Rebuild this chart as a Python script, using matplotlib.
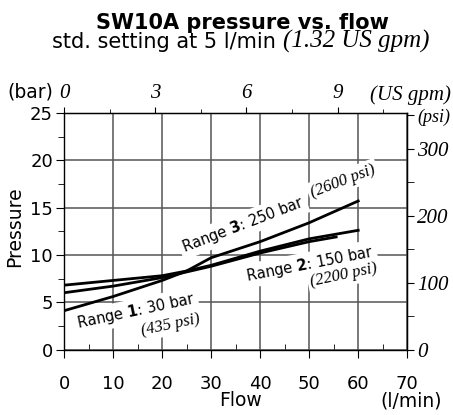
import matplotlib
matplotlib.use("Agg")
import matplotlib.pyplot as plt

plt.rcParams['font.family'] = ['DejaVu Sans']
plt.rcParams['mathtext.fontset'] = 'dejavusans'

# flow in l/min, pressure in bar
flow_r1 = [0, 10, 20, 25, 30, 40, 50, 55.5]
pres_r1 = [6.0, 6.7, 7.6, 8.2, 8.8, 10.2, 11.4, 11.9]
flow_r2 = [0, 10, 20, 25, 30, 40, 50, 60]
pres_r2 = [6.8, 7.3, 7.8, 8.3, 8.9, 10.4, 11.7, 12.6]
flow_r3 = [0, 10, 20, 25, 30, 40, 50, 60]
pres_r3 = [4.1, 5.6, 7.3, 8.3, 9.7, 11.4, 13.4, 15.7]

flow_ticks = list(range(0, 71, 10))
pres_ticks = list(range(0, 26, 5))
gpm_ticks = [0, 3, 6, 9]
psi_ticks = [0, 100, 200, 300, 350]
psi_labels = ['0', '100', '200', '300', '(psi)']

lpm_per_gpm = 6.2     # as drawn on the chart
psi_per_bar = 14.14

serif_it = dict(family='Liberation Serif', style='italic')
box = dict(facecolor='white', edgecolor='none', pad=2)

fig = plt.figure(figsize=(4.53, 4.15), dpi=100)
ax = fig.add_axes([0.1413, 0.1578, 0.7577, 0.5699])

ax.plot(flow_r1, pres_r1, color='black', lw=2.0, zorder=4)
ax.plot(flow_r2, pres_r2, color='black', lw=2.0, zorder=4)
ax.plot(flow_r3, pres_r3, color='black', lw=2.0, zorder=4)

ax.set_xlim(0, 70)
ax.set_ylim(0, 25)
ax.set_xticks(flow_ticks)
ax.set_xticks([5, 15, 25, 35, 45, 55, 65], minor=True)
ax.set_yticks(pres_ticks)
ax.set_yticks([2.5, 7.5, 12.5, 17.5, 22.5], minor=True)
ax.grid(which='major', color='#555555', lw=1.1)
ax.tick_params(axis='x', which='major', direction='out', length=6, pad=12, labelsize=13)
ax.tick_params(axis='x', which='minor', direction='in', length=4)
ax.tick_params(axis='y', which='major', direction='out', length=6, pad=2, labelsize=13)
ax.tick_params(axis='y', which='minor', direction='out', length=4)
for s in ax.spines.values():
    s.set_linewidth(1.0)

# US gpm on top
secx = ax.secondary_xaxis('top', functions=(lambda q: q / lpm_per_gpm, lambda g: g * lpm_per_gpm))
secx.set_xticks(gpm_ticks, [str(g) for g in gpm_ticks], fontsize=15, **serif_it)
secx.set_xticks([1.5, 4.5, 7.5, 10.5], minor=True)
secx.tick_params(which='major', direction='out', length=4, pad=3)
secx.tick_params(which='minor', direction='out', length=3)

# psi on the right
secy = ax.secondary_yaxis('right', functions=(lambda b: b * psi_per_bar, lambda p: p / psi_per_bar))
secy.set_yticks(psi_ticks, psi_labels, fontsize=15, **serif_it)
secy.set_yticks([50, 150, 250], minor=True)
secy.tick_params(which='major', direction='out', length=5, pad=2)
secy.tick_params(which='minor', direction='out', length=5)
secy.get_yticklabels()[-1].set_fontsize(13)

# curve labels
ax.text(14.7, 4.07, r'Range $\mathbf{1}$: 30 bar', rotation=12, ha='center', va='center',
        fontsize=10.5, bbox=box, zorder=3)
ax.text(21.8, 2.64, '(435 psi)', rotation=12, ha='center', va='center',
        fontsize=12, bbox=box, zorder=3, **serif_it)
ax.text(50.2, 9.04, r'Range $\mathbf{2}$: 150 bar', rotation=11, ha='center', va='center',
        fontsize=10.5, bbox=box, zorder=3)
ax.text(57.1, 7.82, '(2200 psi)', rotation=12, ha='center', va='center',
        fontsize=12, bbox=box, zorder=3, **serif_it)
ax.text(36.5, 13.2, r'Range $\mathbf{3}$: 250 bar', rotation=21, ha='center', va='center',
        fontsize=10.5, bbox=box, zorder=3)
ax.text(56.9, 17.8, '(2600 psi)', rotation=21, ha='center', va='center',
        fontsize=12, bbox=box, zorder=3, **serif_it)

# titles and axis captions
fig.text(0.535, 0.945, 'SW10A pressure vs. flow', ha='center', va='center',
         fontsize=15, fontweight='bold')
fig.text(0.115, 0.885, 'std. setting at 5 l/min', ha='left', va='baseline', fontsize=15)
fig.text(0.625, 0.885, '(1.32 US gpm)', ha='left', va='baseline', fontsize=18, **serif_it)
fig.text(0.066, 0.778, '(bar)', ha='center', va='center', fontsize=13.5)
fig.text(0.907, 0.771, '(US gpm)', ha='center', va='center', fontsize=15, **serif_it)
fig.text(0.032, 0.453, 'Pressure', ha='center', va='center', rotation=90, fontsize=13.5)
fig.text(0.53, 0.036, 'Flow', ha='center', va='center', fontsize=13.5)
fig.text(0.907, 0.034, '(l/min)', ha='center', va='center', fontsize=13.5)

fig.savefig('out.png', dpi=100)
